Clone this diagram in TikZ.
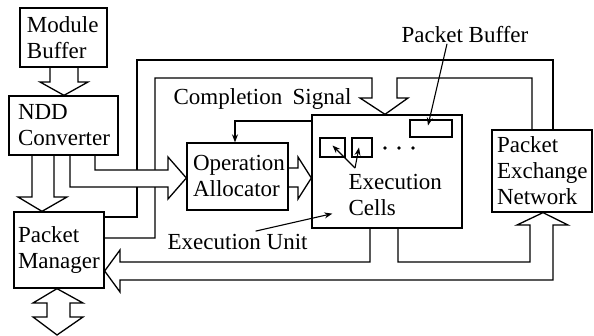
\documentclass[tikz,border=0pt]{standalone}
\usepackage{fontspec}
\setmainfont{Liberation Serif}
\usetikzlibrary{arrows.meta,calc}
\pgfdeclarelayer{bg}
\pgfsetlayers{bg,main}
\begin{document}
\begin{tikzpicture}[x=1pt,y=-1pt, line width=1.3pt, line join=miter,
  box/.style={draw, rectangle, align=left, inner ysep=0pt, font=\fontsize{23}{26}\selectfont},
  plain/.style={draw, rectangle, inner sep=0pt},
  lbl/.style={inner sep=0pt, font=\fontsize{23}{26}\selectfont},
  wide/.style={draw, line width=1.3pt, line join=miter},
  widefill/.style={wide, fill=white},
  arr/.style={-{Stealth[length=8pt,width=6pt]}, line width=1.1pt}]
\useasboundingbox (0,0) rectangle (594,336);

% boxes
\node[box, text width=73pt, inner xsep=7pt, minimum height=59pt] (mb) at (63.5,37.5) {Module\\Buffer};
\node[box, text width=91pt, inner xsep=9pt, minimum height=59pt] (ndd) at (63.5,125.5) {NDD\\Converter};
\node[box, text width=82pt, inner xsep=4pt, minimum height=76pt] (pm) at (59,250) {Packet\\Manager};
\node[box, text width=89pt, inner xsep=6pt, minimum height=67pt] (oa) at (237.5,176.5) {Operation\\Allocator};
\node[plain, minimum width=150pt, minimum height=113pt] (eu) at (387,171.5) {};
\node[box, text width=90pt, inner xsep=5pt, minimum height=82pt] (pen) at (542,171) {Packet\\Exchange\\Network};
\node[plain, minimum width=42pt, minimum height=17pt] (pbuf) at (431,128.5) {};
\node[plain, minimum width=25pt, minimum height=19pt] (c1) at (332.5,147.5) {};
\node[plain, minimum width=20pt, minimum height=19pt] (c2) at (362,147.5) {};

% labels
\node[lbl, anchor=base west] (cs) at (173,105) {Completion\hspace{0.45em}Signal};
\node[lbl, anchor=base] (pbl) at (465,43) {Packet Buffer};
\node[lbl, anchor=west, align=left] (ecl) at (348,195) {Execution\\Cells};
\node[lbl, anchor=base west] (eul) at (167,250) {Execution Unit};

% dots
\fill (385,148) circle (1.8pt);
\fill (399,148) circle (1.8pt);
\fill (413,148) circle (1.8pt);

\begin{pgfonlayer}{bg}
\begin{scope}[line width=1.3pt, line join=miter]
% top channel
\draw[wide] (pm.east |- 0,217) -- (137,217) -- (137,60) -- (553,60) -- (553,0 |- pen.north);
\draw[wide] (pm.east |- 0,238) -- (155,238) -- (155,78) -- (372,78) -- (372,98) -- (360,98)
  -- (385,0 |- eu.north) -- (408,98) -- (397,98) -- (397,78) -- (532,78) -- (532,0 |- pen.north);
% NDD -> Operation Allocator
\draw[widefill] (95,0 |- ndd.south) -- (95,170) -- (168,170) -- (168,157) -- (oa.west |- 0,178)
  -- (168,199) -- (168,187) -- (70,187) -- (70,0 |- ndd.south);
% NDD -> Packet Manager
\draw[wide] (32,0 |- ndd.south) -- (32,197) -- (18,197) -- (42,0 |- pm.north) -- (67,197) -- (54,197) -- (54,0 |- ndd.south);
% Module Buffer -> NDD
\draw[wide] (50,0 |- mb.south) -- (50,82) -- (40,82) -- (64,0 |- ndd.north) -- (88,82) -- (78,82) -- (78,0 |- mb.south);
% Operation Allocator -> Execution Unit
\draw[wide] (oa.east |- 0,168) -- (298,168) -- (298,157) -- (eu.west |- 0,178) -- (298,199) -- (298,187) -- (oa.east |- 0,187);
% bottom channel
\draw[wide] (370,0 |- eu.south) -- (370,262) -- (120,262) -- (120,250) -- (pm.east |- 0,271) -- (120,292)
  -- (120,280) -- (553,280) -- (553,225) -- (568,225) -- (543,0 |- pen.south) -- (517,225)
  -- (530,225) -- (530,262) -- (398,262) -- (398,0 |- eu.south);
% Packet Manager I/O
\coordinate (pmio) at (57,335);
\draw[wide] (57,0 |- pm.south) -- (83,303) -- (70,303) -- (70,317) -- (83,317) -- (pmio) -- (33,317)
  -- (47,317) -- (47,303) -- (33,303) -- cycle;
\end{scope}
\end{pgfonlayer}

% thin arrows
\draw[arr] (eu.west |- 0,121) -- (235,121) -- (235,0 |- oa.north);
\draw[arr] (pbl.south -| 447,0) -- ($(pbuf.center)+(-3,-3)$);
\coordinate (ecp) at (355,168);
\draw[arr] (ecp) -- ($(c1.center)+(0,-2)$);
\draw[arr] (ecp) -- ($(c2.center)+(-3,0)$);
\draw[arr] ($(eul.north)+(18,-3)$) -- ($(eu.south west)+(21,-15)$);
\end{tikzpicture}
\end{document}
